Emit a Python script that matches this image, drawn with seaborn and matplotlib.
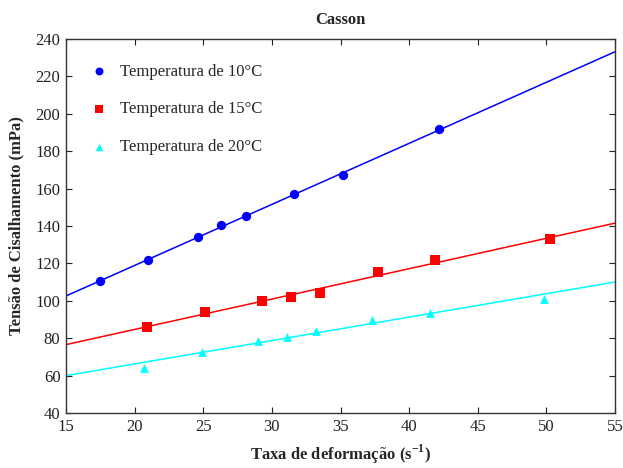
import numpy as np
import pandas as pd
import matplotlib
matplotlib.use("Agg")
import matplotlib.pyplot as plt
import seaborn as sns

# data
temps = ["Temperatura de 10°C", "Temperatura de 15°C", "Temperatura de 20°C"]
x10 = [17.5, 21.0, 24.6, 26.3, 28.1, 31.6, 35.2, 42.2]
y10 = [110.6, 121.7, 134.1, 140.5, 145.3, 157.1, 167.4, 191.7]
x15 = [20.9, 25.1, 29.3, 31.4, 33.5, 37.7, 41.9, 50.3]
y15 = [86.0, 94.2, 99.7, 101.9, 104.2, 115.6, 121.8, 132.9]
x20 = [20.7, 24.9, 29.0, 31.1, 33.2, 37.3, 41.5, 49.8]
y20 = [64.0, 72.8, 78.7, 80.5, 84.0, 89.8, 93.7, 101.0]

colors = ["#0000ff", "#ff0000", "#00ffff"]
markers = ["o", "s", "^"]
sizes = [45, 45, 40]

sns.set_style("ticks")
plt.rcParams["font.family"] = ["Liberation Serif", "DejaVu Serif"]
plt.rcParams["mathtext.fontset"] = "custom"
plt.rcParams["mathtext.rm"] = "Liberation Serif"
plt.rcParams["mathtext.bf"] = "Liberation Serif:bold"

fig = plt.figure(figsize=(6.23, 4.68), dpi=100)
ax = fig.add_axes([66 / 623, 1 - 413 / 468, (615 - 66) / 623, (413 - 39) / 468])
ax.set_xlim(15, 55)
ax.set_ylim(40, 240)

series = [(x10, y10), (x15, y15), (x20, y20)]
for (xs, ys), lab, c, m, s in zip(series, temps, colors, markers, sizes):
    df = pd.DataFrame({"x": xs, "y": ys})
    # fitted line across the whole axis
    sns.regplot(data=df, x="x", y="y", ax=ax, scatter=False, ci=None,
                truncate=False, color=c, line_kws={"lw": 1.1})
    sns.scatterplot(data=df, x="x", y="y", ax=ax, color=c, marker=m, s=s,
                    edgecolor=c, linewidth=0, label=lab, zorder=3)

ax.set_xlim(15, 55)
ax.set_ylim(40, 240)
ax.set_xticks(np.arange(15, 56, 5))
ax.set_yticks(np.arange(40, 241, 20))
ax.tick_params(direction="in", top=True, right=True, length=4, width=0.8,
               labelsize=12, colors="#222222", pad=4)
for sp in ax.spines.values():
    sp.set_linewidth(1.0)
    sp.set_color("#333333")

ax.set_title("Casson", fontsize=12, fontweight="bold", pad=11)
ax.set_xlabel(r"Taxa de deformação (s$^{\mathbf{-1}}$)", fontsize=12,
              fontweight="bold", labelpad=6)
ax.set_ylabel("Tensão de Cisalhamento (mPa)", fontsize=12,
              fontweight="bold", labelpad=8)

leg = ax.legend(loc="upper left", frameon=False, fontsize=12,
                labelspacing=1.3, handletextpad=0.3, markerscale=0.85,
                borderaxespad=0.4, bbox_to_anchor=(0.005, 0.97))

fig.savefig("out.png", dpi=100)
